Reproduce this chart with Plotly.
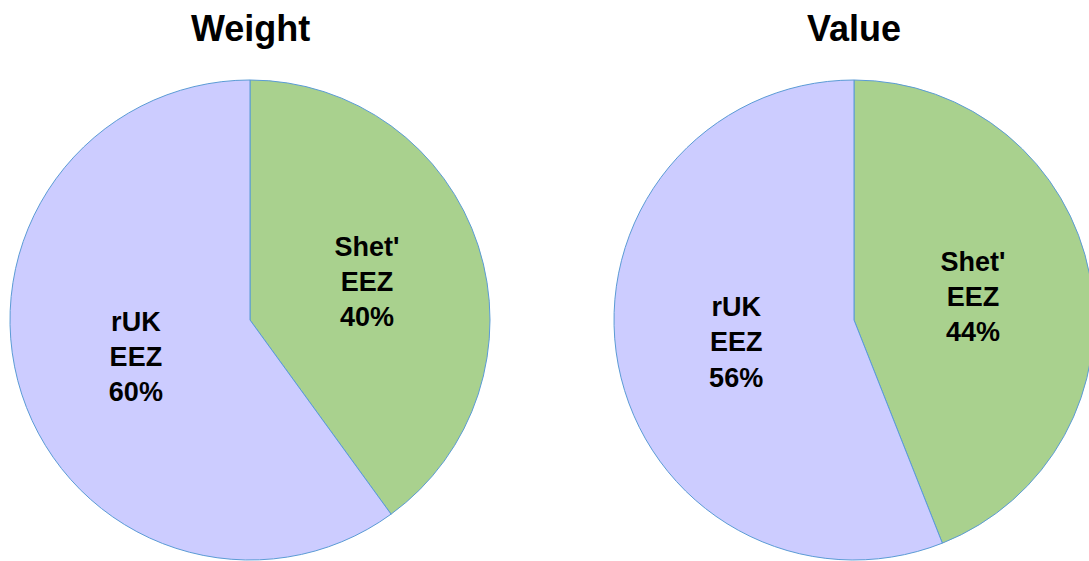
import plotly.graph_objects as go

labels = ["Shet'<br>EEZ", "rUK<br>EEZ"]
weight_values = [40, 60]
value_values = [44, 56]
titles = ["Weight", "Value"]
colors = ["#A9D18E", "#CCCCFF"]
line_color = "#5B9BD5"

W, H = 1100, 561

fig = go.Figure()
domains = [
    dict(x=[10 / W, 490 / W], y=[1 - 560 / H, 1 - 80 / H]),
    dict(x=[614 / W, 1094 / W], y=[1 - 560 / H, 1 - 80 / H]),
]
for vals, dom in zip([weight_values, value_values], domains):
    fig.add_trace(go.Pie(
        labels=labels, values=vals, sort=False, direction="clockwise", rotation=0,
        marker=dict(colors=colors, line=dict(color=line_color, width=1)),
        textinfo="label+percent", texttemplate="<b>%{label}<br>%{percent:.0%}</b>",
        textposition="inside", insidetextorientation="horizontal",
        textfont=dict(family="Liberation Sans, Arial, sans-serif", size=27, color="black"),
        domain=dom, showlegend=False, hoverinfo="label+percent",
    ))

for t, dom in zip(titles, domains):
    fig.add_annotation(
        text=f"<b>{t}</b>", x=(dom["x"][0] + dom["x"][1]) / 2, y=1 - 28 / H,
        xref="paper", yref="paper", showarrow=False, xanchor="center", yanchor="middle",
        font=dict(family="Liberation Sans, Arial, sans-serif", size=36, color="black"),
    )

fig.update_layout(
    width=W, height=H, margin=dict(l=0, r=0, t=0, b=0),
    paper_bgcolor="white", plot_bgcolor="white",
)

fig.write_html(
    "out.html",
    config={"displayModeBar": False},
    post_script="document.body.style.margin='0';document.body.style.overflow='hidden';",
)
